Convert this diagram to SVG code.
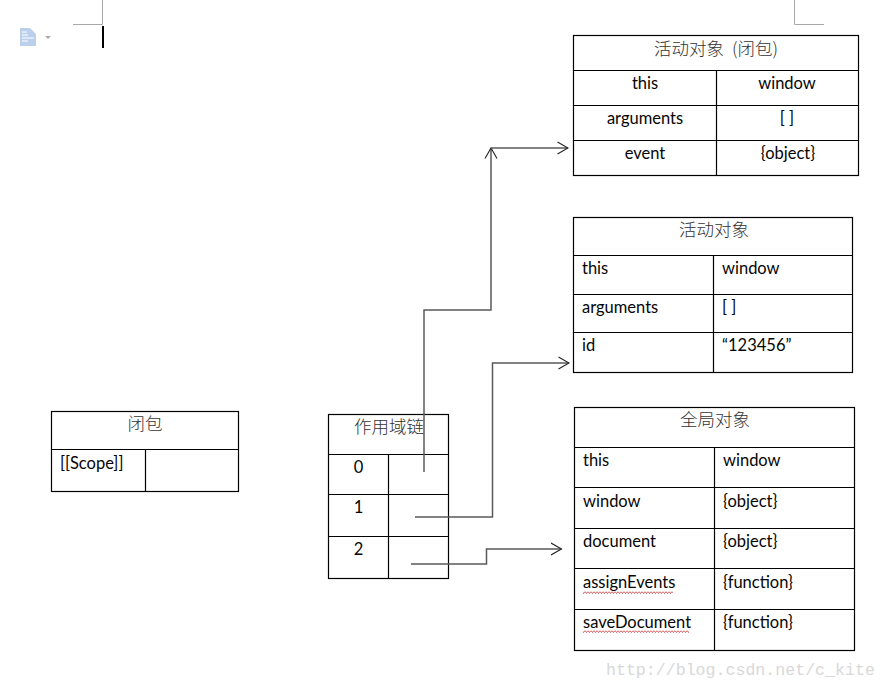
<svg xmlns="http://www.w3.org/2000/svg" width="887" height="688" viewBox="0 0 887 688">
<style>
.g{fill:none;stroke:#000;stroke-width:1.2}
.t{font-family:"Lato","Liberation Sans",sans-serif;font-size:16.500px;fill:#050505}
.c{font-family:"Noto Sans CJK SC",sans-serif;font-size:17.500px;fill:#333;font-weight:300;word-spacing:4px}
.m{text-anchor:middle}
.w{fill:none;stroke:#5a5a5a;stroke-width:1.5}
.r{fill:none;stroke:#a8a8a8;stroke-width:1}
</style>
<defs>
<marker id="a" viewBox="0 0 12 14" refX="11" refY="7" markerWidth="12" markerHeight="14" markerUnits="userSpaceOnUse" orient="auto"><path d="M0.5 1L11 7L0.5 13" fill="none" stroke="#222" stroke-width="1.1"/></marker>
<pattern id="wave" x="0" y="0" width="3" height="3" patternUnits="userSpaceOnUse"><path d="M0 0.500L1.500 2.500L3 0.500" fill="none" stroke="#c83030" stroke-width="0.800"/></pattern>
</defs>
<rect width="887" height="688" fill="#fff"/>
<g id="page-marks">
<path class="r" d="M73 24.500H102.500V0M794.500 0V24.500H824"/>
<rect x="102" y="26" width="2" height="22" fill="#000"/>
<path d="M20 28H30L36 34V46H20Z" fill="#bcd0ec"/>
<path d="M22 32H27M22 35H28M22 38H34M22 41H28" stroke="#fff" stroke-width="1"/>
<path d="M45 36H51L48 39Z" fill="#aaa"/>
</g>
<g id="closure">
<rect class="g" x="51.500" y="411.500" width="187" height="80"/>
<path class="g" d="M51.500 449.500H238.500M145.500 449.500V491.500"/>
<text class="c m" x="145" y="430">闭包</text>
<text class="t" x="60" y="469">[[Scope]]</text>
</g>
<g id="scope-chain">
<rect class="g" x="328.500" y="414.500" width="120" height="164"/>
<path class="g" d="M328.500 454.500H448.500M328.500 494.500H448.500M328.500 536.500H448.500M388.500 454.500V578.500"/>
<text class="c m" x="389" y="433">作用域链</text>
<text class="t m" x="358.500" y="473">0</text>
<text class="t m" x="358.500" y="513">1</text>
<text class="t m" x="358.500" y="555">2</text>
</g>
<g id="activation-closure">
<rect class="g" x="573.500" y="35.500" width="285" height="140"/>
<path class="g" d="M573.500 70.500H858.500M573.500 105.500H858.500M573.500 140.500H858.500M716.500 70.500V175.500"/>
<text class="c m" x="716" y="55">活动对象 (闭包)</text>
<text class="t m" x="645" y="89">this</text>
<text class="t m" x="787" y="89">window</text>
<text class="t m" x="645" y="124">arguments</text>
<text class="t m" x="787" y="124">[ ]</text>
<text class="t m" x="645" y="159">event</text>
<text class="t m" x="788" y="159">{object}</text>
</g>
<g id="activation">
<rect class="g" x="573.500" y="217.500" width="279" height="155"/>
<path class="g" d="M573.500 255.500H852.500M573.500 294.500H852.500M573.500 332.500H852.500M713.500 255.500V372.500"/>
<text class="c m" x="714" y="236">活动对象</text>
<text class="t" x="582" y="274">this</text>
<text class="t" x="722" y="274">window</text>
<text class="t" x="582" y="313">arguments</text>
<text class="t" x="722" y="313">[ ]</text>
<text class="t" x="582" y="351">id</text>
<text class="t" x="722" y="351">“123456”</text>
</g>
<g id="global">
<rect class="g" x="574.500" y="407.500" width="280" height="243"/>
<path class="g" d="M574.500 447.500H854.500M574.500 487.500H854.500M574.500 528.500H854.500M574.500 568.500H854.500M574.500 609.500H854.500M714.500 447.500V650.500"/>
<text class="c m" x="715" y="426">全局对象</text>
<text class="t" x="583" y="466">this</text>
<text class="t" x="723" y="466">window</text>
<text class="t" x="583" y="507">window</text>
<text class="t" x="723" y="507">{object}</text>
<text class="t" x="583" y="547">document</text>
<text class="t" x="723" y="547">{object}</text>
<text class="t" x="583" y="588">assignEvents</text>
<text class="t" x="723" y="588">{function}</text>
<text class="t" x="583" y="628">saveDocument</text>
<text class="t" x="723" y="628">{function}</text>
<rect x="583" y="591" width="90" height="3" fill="url(#wave)"/>
<rect x="583" y="630" width="106" height="3" fill="url(#wave)"/>
</g>
<g id="connectors">
<path class="w" d="M424 472V310H491V148" marker-end="url(#a)"/>
<path class="w" d="M491 148H568" marker-end="url(#a)"/>
<path class="w" d="M415 517H492.500V363H569" marker-end="url(#a)"/>
<path class="w" d="M411 564H486.500V549H561.500" marker-end="url(#a)"/>
</g>
<text x="606" y="675" font-family="Liberation Mono, monospace" font-size="16.600" fill="#d8d8d8">http://blog.csdn.net/c_kite</text>
</svg>
